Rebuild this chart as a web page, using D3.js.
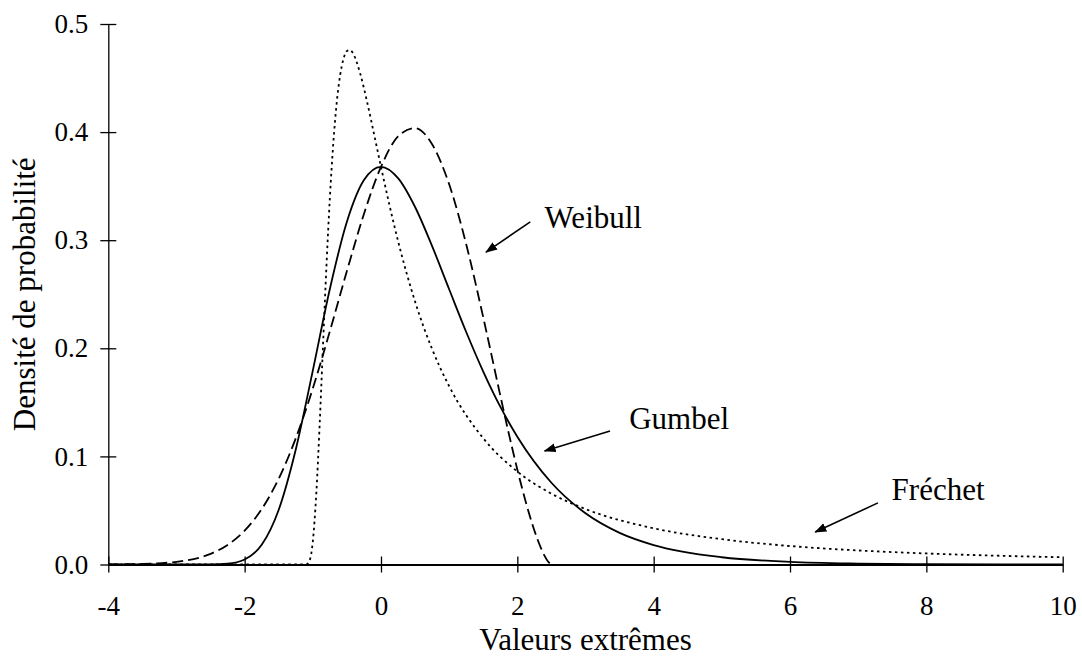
<!DOCTYPE html>
<html>
<head>
<meta charset="utf-8">
<script src="https://cdn.jsdelivr.net/npm/d3@7"></script>
<style>
  body { margin: 0; background: #fff; }
  svg text { font-family: "Liberation Serif", "Times New Roman", serif; fill: #000; }
</style>
</head>
<body>
<svg id="chart" width="1082" height="656"></svg>
<script>
// values
let gumbelX = [-4, -3, -2.5, -2.25, -2, -1.75, -1.5, -1.25, -1, -0.75, -0.5, -0.25, 0, 0.25, 0.5, 0.75, 1, 1.25, 1.5, 1.75, 2, 2.5, 3, 3.5, 4, 5, 6, 7, 8, 10];
let gumbelY = [0, 0, 0.0001, 0.0007, 0.0046, 0.0182, 0.0507, 0.1064, 0.1794, 0.2549, 0.317, 0.3556, 0.3679, 0.3574, 0.3307, 0.2945, 0.2546, 0.2151, 0.1785, 0.146, 0.1182, 0.0756, 0.0474, 0.0293, 0.018, 0.0067, 0.0025, 0.0009, 0.0003, 0.0001];

let weibullX = [-4, -3.5, -3, -2.5, -2.25, -2, -1.75, -1.5, -1.25, -1, -0.75, -0.5, -0.25, 0, 0.25, 0.5, 0.75, 1, 1.25, 1.5, 1.75, 1.875, 2, 2.125, 2.25, 2.35, 2.4, 2.45, 2.5];
let weibullY = [0.0001, 0.0005, 0.0025, 0.0099, 0.0181, 0.0313, 0.0512, 0.0794, 0.1167, 0.1629, 0.2158, 0.2715, 0.3243, 0.3679, 0.396, 0.4037, 0.3887, 0.3517, 0.2963, 0.2286, 0.1564, 0.1211, 0.0879, 0.0576, 0.0315, 0.0147, 0.008, 0.0028, 0];

let frechetX = [-4, -1.25, -1.15, -1.1, -1.05, -1, -0.95, -0.9, -0.85, -0.8, -0.75, -0.7, -0.65, -0.6, -0.55, -0.5, -0.45, -0.4, -0.3, -0.2, -0.1, 0, 0.25, 0.5, 0.75, 1, 1.5, 2, 2.5, 3, 4, 5, 6, 7, 8, 9, 10];
let frechetY = [0, 0, 0, 0.0001, 0.0032, 0.0212, 0.0644, 0.129, 0.2036, 0.2761, 0.339, 0.3893, 0.4268, 0.4523, 0.4678, 0.475, 0.4758, 0.4716, 0.453, 0.4269, 0.3976, 0.3679, 0.2993, 0.2432, 0.1993, 0.1649, 0.1168, 0.086, 0.0655, 0.0513, 0.0335, 0.0234, 0.0171, 0.013, 0.0102, 0.0082, 0.0067];

let xTicks = [-4, -2, 0, 2, 4, 6, 8, 10];
let yTicks = [0, 0.1, 0.2, 0.3, 0.4, 0.5];

// labels with arrows: [text, text x, text y, arrow from x, from y, to x, to y] in data units
let labels = [
  ["Weibull", 2.4, 0.311, 2.19, 0.317, 1.54, 0.289],
  ["Gumbel", 3.64, 0.125, 3.36, 0.1235, 2.40, 0.105],
  ["Fréchet", 7.49, 0.06, 7.29, 0.057, 6.37, 0.03]
];

let svg = d3.select("#chart");
let plotLeft = 108.3, plotRight = 1062.7, plotTop = 24, plotBottom = 564.5;

let x = d3.scaleLinear().domain([-4, 10]).range([plotLeft, plotRight]);
let y = d3.scaleLinear().domain([0, 0.5]).range([plotBottom, plotTop]);

// arrow head marker
svg.append("defs").append("marker")
  .attr("id", "arr")
  .attr("viewBox", "0 0 12 10")
  .attr("refX", 11).attr("refY", 5)
  .attr("markerWidth", 12).attr("markerHeight", 10)
  .attr("markerUnits", "userSpaceOnUse")
  .attr("orient", "auto")
  .append("path")
  .attr("d", "M0,0.5 L12,5 L0,9.5 z")
  .attr("fill", "#000");

// axes, ticks cross the axis line
let xAxis = svg.append("g")
  .attr("transform", `translate(0,${plotBottom})`)
  .call(d3.axisBottom(x).tickValues(xTicks).tickSize(8).tickSizeOuter(0).tickFormat(d => String(d)));
xAxis.selectAll(".tick line").attr("y1", -8).attr("stroke-width", 1.3);
xAxis.select(".domain").attr("stroke-width", 2);
xAxis.selectAll(".tick text")
  .attr("y", 31)
  .style("font-size", "27px")
  .style("font-family", "'Liberation Serif', serif");

let yAxis = svg.append("g")
  .attr("transform", `translate(${plotLeft},0)`)
  .call(d3.axisLeft(y).tickValues(yTicks).tickSize(8).tickSizeOuter(0).tickFormat(d3.format(".1f")));
yAxis.selectAll(".tick line").attr("x1", 8).attr("x2", -8).attr("stroke-width", 1.3);
yAxis.select(".domain").attr("stroke-width", 1.3);
yAxis.selectAll(".tick text")
  .attr("x", -20)
  .style("font-size", "27px")
  .style("font-family", "'Liberation Serif', serif");

// curves
let line = d3.line()
  .x(d => x(d[0]))
  .y(d => y(d[1]))
  .curve(d3.curveMonotoneX);

let series = [
  [d3.zip(frechetX, frechetY), "2.5 3.5"],
  [d3.zip(weibullX, weibullY), "11 5"],
  [d3.zip(gumbelX, gumbelY), null]
];

series.forEach(s => {
  svg.append("path")
    .datum(s[0])
    .attr("d", line)
    .attr("fill", "none")
    .attr("stroke", "#000")
    .attr("stroke-width", 1.8)
    .attr("stroke-dasharray", s[1]);
});

// annotations
labels.forEach(l => {
  svg.append("text")
    .attr("x", x(l[1]))
    .attr("y", y(l[2]))
    .style("font-size", "31px")
    .text(l[0]);
  svg.append("line")
    .attr("x1", x(l[3])).attr("y1", y(l[4]))
    .attr("x2", x(l[5])).attr("y2", y(l[6]))
    .attr("stroke", "#000")
    .attr("stroke-width", 1.6)
    .attr("marker-end", "url(#arr)");
});

// axis titles
svg.append("text")
  .attr("x", (plotLeft + plotRight) / 2)
  .attr("y", 650)
  .attr("text-anchor", "middle")
  .style("font-size", "31px")
  .text("Valeurs extrêmes");

svg.append("text")
  .attr("transform", "rotate(-90)")
  .attr("x", -(plotTop + plotBottom) / 2)
  .attr("y", 35)
  .attr("text-anchor", "middle")
  .style("font-size", "31px")
  .text("Densité de probabilité");
</script>
</body>
</html>
